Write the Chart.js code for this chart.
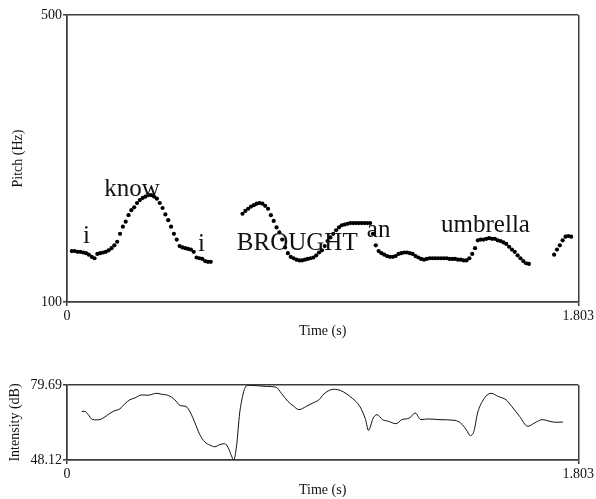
<!DOCTYPE html>
<html>
<head>
<meta charset="utf-8">
<script src="https://cdn.jsdelivr.net/npm/chart.js@4.4.0/dist/chart.umd.min.js"></script>
<style>
  html, body { margin: 0; padding: 0; background: #fff; }
  #wrap { position: relative; width: 596px; height: 499px; }
  #pitchChart { position: absolute; left: 0; top: 0; }
  #intensityChart { position: absolute; left: 0; top: 360px; }
</style>
</head>
<body>
<div id="wrap">
  <canvas id="pitchChart" width="596" height="340"></canvas>
  <canvas id="intensityChart" width="596" height="139"></canvas>
</div>
<script>
// pitch track, one value every 10 ms, split into voiced stretches
const frameStep = 0.01;
const segmentStarts = [0.017, 0.619, 1.718];
const pitchSeg1 = [171, 171, 170, 170, 169, 168, 166, 163, 161, 167,
                   168, 169, 170, 172, 175, 179, 184, 195, 205, 212,
                   221, 228, 232, 238, 242, 245, 247, 249, 249, 247,
                   244, 238, 231, 222, 214, 205, 195, 187, 178, 176,
                   175, 174, 173, 170, 162, 161, 160, 157, 156, 156];
const pitchSeg2 = [223, 227, 230, 233, 235, 237, 238, 237, 234, 230,
                   221, 213, 204, 197, 187, 176, 168, 163, 161, 159,
                   158, 158, 159, 160, 161, 162, 165, 169, 172, 178,
                   185, 190, 195, 200, 204, 207, 208, 209, 210, 210,
                   210, 210, 210, 210, 210, 210, 195, 179, 171, 168,
                   166, 164, 163, 163, 164, 167, 168, 169, 169, 168,
                   167, 164, 162, 160, 159, 160, 161, 161, 161, 161,
                   161, 161, 161, 160, 160, 160, 159, 159, 158, 158,
                   161, 167, 175, 186, 187, 187, 188, 189, 188, 188,
                   186, 185, 183, 181, 177, 173, 170, 165, 161, 157,
                   154, 153];
const pitchSeg3 = [166, 173, 179, 186, 191, 192, 191];

// intensity contour
const intensityTimes = [0.052, 0.063, 0.075, 0.089, 0.105, 0.122, 0.140, 0.163, 0.187, 0.204,
                        0.222, 0.239, 0.263, 0.286, 0.316, 0.333, 0.357, 0.380, 0.400, 0.419,
                        0.436, 0.451, 0.468, 0.486, 0.504, 0.521, 0.539, 0.556, 0.568, 0.580,
                        0.588, 0.598, 0.609, 0.619, 0.627, 0.638, 0.668, 0.703, 0.738, 0.756,
                        0.779, 0.797, 0.818, 0.844, 0.867, 0.889, 0.906, 0.940, 0.966, 1.006,
                        1.033, 1.053, 1.063, 1.080, 1.093, 1.113, 1.134, 1.160, 1.181, 1.208,
                        1.228, 1.248, 1.274, 1.315, 1.368, 1.388, 1.408, 1.422, 1.435, 1.448,
                        1.468, 1.495, 1.522, 1.549, 1.569, 1.596, 1.625, 1.649, 1.676, 1.703,
                        1.723, 1.749];
const intensityValues = [68.6, 68.6, 67.2, 65.2, 65.0, 65.4, 66.8, 68.6, 69.7, 71.8,
                         73.5, 74.2, 75.5, 75.4, 76.2, 75.8, 75.3, 73.5, 71.0, 70.7,
                         67.9, 63.8, 58.9, 55.7, 54.4, 53.7, 54.6, 55.0, 53.4, 49.9,
                         48.12, 54.1, 67.9, 74.8, 78.3, 79.6, 79.4, 79.1, 78.7, 76.2,
                         72.8, 71.0, 69.3, 70.7, 72.1, 73.5, 75.9, 77.9, 77.3, 74.1,
                         70.6, 65.1, 60.6, 65.8, 67.2, 65.1, 64.4, 63.4, 65.1, 65.8,
                         67.9, 65.1, 65.4, 65.1, 64.8, 63.7, 60.9, 58.4, 60.2, 67.9,
                         73.4, 76.2, 74.8, 73.4, 70.6, 66.5, 62.3, 63.7, 65.1, 64.4,
                         64.0, 64.1];

// word annotations (time, pitch of the text baseline)
const wordLabels = ['i', 'know', 'i', 'BROUGHT', 'an', 'umbrella'];
const wordTimes = [0.069, 0.229, 0.474, 0.812, 1.099, 1.476];
const wordPitch = [182.6, 248, 170.4, 172.5, 189.9, 198];

const timeTicks = [0, 1.803];
const pitchTicks = [100, 500];
const intensityTicks = [48.12, 79.69];

const serif = '"Liberation Serif", "Times New Roman", serif';
const boxColor = '#3c3c3c';
Chart.defaults.font.family = serif;
Chart.defaults.font.size = 14;
Chart.defaults.color = '#111';

function toPoints(start, values) {
  return values.map((v, i) => ({ x: start + i * frameStep, y: v }));
}
const pitchPoints = [].concat(
  toPoints(segmentStarts[0], pitchSeg1),
  toPoints(segmentStarts[1], pitchSeg2),
  toPoints(segmentStarts[2], pitchSeg3)
);
const intensityPoints = intensityTimes.map((t, i) => ({ x: t, y: intensityValues[i] }));

function edgeAxis(tickValues, title, titlePad, size, horizontal) {
  return {
    type: 'linear',
    min: tickValues[0],
    max: tickValues[tickValues.length - 1],
    afterBuildTicks: (scale) => { scale.ticks = tickValues.map(v => ({ value: v })); },
    afterFit: (scale) => {
      if (horizontal) scale.height = size; else scale.width = size;
    },
    ticks: {
      padding: horizontal ? 2 : 1,
      autoSkip: false,
      maxRotation: 0,
      callback: (v) => String(v)
    },
    grid: { color: boxColor, lineWidth: 1.5, tickLength: 4, drawTicks: true },
    border: { color: boxColor, width: 1.5 },
    title: { display: true, text: title, padding: titlePad, font: { size: 14 } }
  };
}

const wordPlugin = {
  id: 'words',
  afterDatasetsDraw(chart) {
    const { ctx, scales } = chart;
    ctx.save();
    ctx.font = '25px ' + serif;
    ctx.fillStyle = '#111';
    ctx.textAlign = 'center';
    ctx.textBaseline = 'alphabetic';
    wordLabels.forEach((w, i) => {
      ctx.fillText(w, scales.x.getPixelForValue(wordTimes[i]), scales.y.getPixelForValue(wordPitch[i]));
    });
    ctx.restore();
  }
};

new Chart(document.getElementById('pitchChart'), {
  type: 'scatter',
  data: {
    datasets: [{
      data: pitchPoints,
      pointRadius: 2.1,
      pointBackgroundColor: '#000',
      pointBorderWidth: 0,
      showLine: false
    }]
  },
  options: {
    responsive: false,
    animation: false,
    layout: { padding: { top: 15, right: 17, left: 0, bottom: 0 } },
    plugins: { legend: { display: false }, tooltip: { enabled: false } },
    scales: {
      x: edgeAxis(timeTicks, 'Time (s)', { top: 0, bottom: 0 }, 38, true),
      y: edgeAxis(pitchTicks, 'Pitch (Hz)', { top: 10, bottom: 0 }, 67, false)
    }
  },
  plugins: [wordPlugin]
});

new Chart(document.getElementById('intensityChart'), {
  type: 'line',
  data: {
    datasets: [{
      data: intensityPoints,
      borderColor: '#111',
      borderWidth: 1,
      pointRadius: 0,
      cubicInterpolationMode: 'monotone',
      fill: false
    }]
  },
  options: {
    responsive: false,
    animation: false,
    layout: { padding: { top: 25, right: 17, left: 0, bottom: 0 } },
    plugins: { legend: { display: false }, tooltip: { enabled: false } },
    scales: {
      x: edgeAxis(timeTicks, 'Time (s)', { top: 0, bottom: 0 }, 39, true),
      y: edgeAxis(intensityTicks, 'Intensity (dB)', { top: 7, bottom: 0 }, 67, false)
    }
  }
});
</script>
</body>
</html>
